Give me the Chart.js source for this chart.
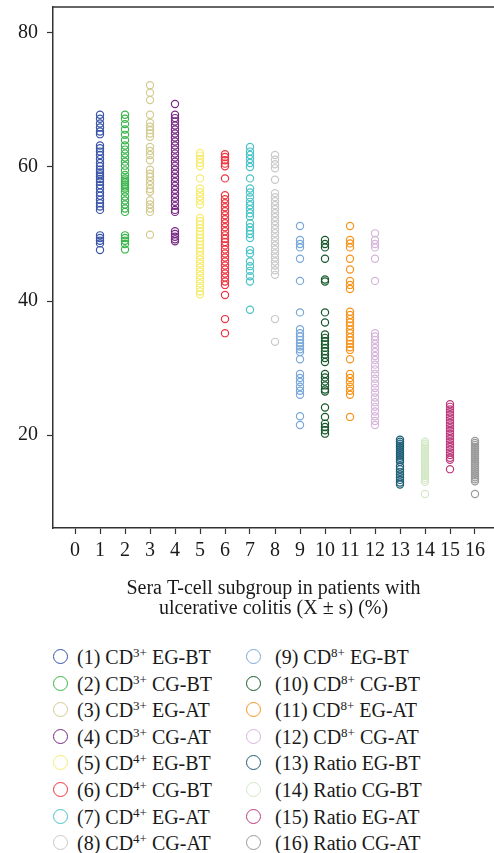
<!DOCTYPE html>
<html>
<head>
<meta charset="utf-8">
<script src="https://cdn.jsdelivr.net/npm/chart.js@4.4.1/dist/chart.umd.min.js"></script>
<style>
  body { margin: 0; background: #fff; font-family: "Liberation Serif", "DejaVu Serif", serif; }
  #wrap { position: relative; width: 494px; height: 853px; }
  #chart { position: absolute; left: 0; top: 0; }
  #legend { position: absolute; left: 0; top: 644px; width: 494px; }
  .item { position: absolute; height: 26px; line-height: 26px; font-size: 20px; color: #1a1a1a; white-space: nowrap; }
  .dot { position: absolute; top: 5px; width: 13px; height: 13px; border-radius: 50%; border: 1.5px solid; box-sizing: content-box; }
  .lbl { position: absolute; }
  sup { font-size: 13px; vertical-align: 0; position: relative; top: -7px; }
</style>
</head>
<body>
<div id="wrap">
  <canvas id="chart" width="494" height="630"></canvas>
  <div id="legend"></div>
</div>
<script>
// groups 1..16 on the x axis
const groupNumbers = [1, 2, 3, 4, 5, 6, 7, 8, 9, 10, 11, 12, 13, 14, 15, 16];
const xTicks = [0, 1, 2, 3, 4, 5, 6, 7, 8, 9, 10, 11, 12, 13, 14, 15, 16];
const yTicks = [20, 40, 60, 80];

// legend names: [prefix, superscript, suffix]
const groupNames = [
  ["(1) CD", "3+", " EG-BT"],
  ["(2) CD", "3+", " CG-BT"],
  ["(3) CD", "3+", " EG-AT"],
  ["(4) CD", "3+", " CG-AT"],
  ["(5) CD", "4+", " EG-BT"],
  ["(6) CD", "4+", " CG-BT"],
  ["(7) CD", "4+", " EG-AT"],
  ["(8) CD", "4+", " CG-AT"],
  ["(9) CD", "8+", " EG-BT"],
  ["(10) CD", "8+", " CG-BT"],
  ["(11) CD", "8+", " EG-AT"],
  ["(12) CD", "8+", " CG-AT"],
  ["(13) Ratio EG-BT", "", ""],
  ["(14) Ratio CG-BT", "", ""],
  ["(15) Ratio EG-AT", "", ""],
  ["(16) Ratio CG-AT", "", ""]
];

const groupColors = [
  "#3a55a6", "#3ab54a", "#d3cb92", "#7a2a86",
  "#f4ec74", "#ee3540", "#4cc3c6", "#c9c9c9",
  "#78a7d8", "#17592b", "#f7941d", "#d5b5da",
  "#1d5e78", "#d3e8c6", "#bd3b7d", "#9a9a9a"
];

// values per group (%)
const g1 = [67.8, 67.2, 66.5, 65.9, 65.3, 64.9, 63.2, 62.8, 62.3, 61.8, 61.2, 60.6, 60.1, 59.6, 59.2, 58.9, 58.6, 58.2, 57.8, 57.3, 56.8, 56.2, 55.7, 55.1, 54.6, 54.1, 53.6, 49.8, 49.4, 49.0, 48.6, 47.6];
const g2 = [67.8, 67.2, 66.4, 65.6, 64.8, 64.0, 63.2, 62.6, 62.0, 61.4, 60.8, 60.2, 59.5, 58.8, 58.3, 58.0, 57.7, 57.4, 57.1, 56.8, 56.3, 55.6, 55.0, 54.4, 53.8, 53.3, 49.8, 49.4, 49.0, 48.5, 47.7];
const g3 = [72.2, 71.1, 70.0, 67.8, 66.6, 66.0, 65.5, 65.0, 64.5, 63.0, 62.4, 61.8, 61.0, 59.6, 59.0, 58.5, 57.9, 57.3, 56.7, 56.3, 55.0, 54.4, 53.8, 53.3, 49.9];
const g4 = [69.4, 67.8, 67.3, 66.8, 66.2, 65.6, 65.0, 64.4, 63.8, 63.2, 62.6, 62.0, 61.4, 60.8, 60.2, 59.6, 59.0, 58.4, 57.8, 57.2, 56.6, 56.0, 55.4, 54.8, 54.2, 53.6, 53.3, 50.4, 50.0, 49.6, 49.2, 48.9];
const g5 = [62.1, 61.7, 61.2, 60.6, 60.1, 58.3, 56.8, 56.2, 55.6, 55.0, 54.4, 52.4, 51.9, 51.4, 50.9, 50.4, 49.9, 49.4, 48.9, 48.4, 47.9, 47.4, 46.8, 46.2, 45.6, 45.0, 44.4, 43.8, 43.2, 42.6, 42.0, 41.4, 41.0];
const g6 = [61.9, 61.5, 61.0, 60.5, 60.1, 58.3, 55.8, 55.2, 54.6, 54.0, 53.4, 52.8, 52.2, 51.6, 51.0, 50.4, 49.8, 49.3, 48.8, 48.3, 47.7, 47.1, 46.5, 45.9, 45.3, 44.7, 44.1, 43.5, 42.9, 42.4, 40.9, 37.3, 35.2];
const g7 = [63.0, 62.3, 61.8, 61.2, 60.6, 60.0, 58.3, 56.8, 56.2, 55.5, 54.8, 54.3, 53.7, 53.1, 52.6, 51.6, 51.0, 50.5, 50.0, 49.4, 47.6, 47.1, 45.9, 45.2, 44.5, 43.7, 42.9, 38.7];
const g8 = [61.8, 61.1, 60.4, 59.8, 58.1, 56.1, 55.5, 54.9, 54.3, 53.7, 53.1, 52.5, 51.9, 51.3, 50.7, 50.1, 49.5, 48.9, 48.3, 47.7, 47.1, 46.5, 45.9, 45.3, 44.6, 43.9, 37.3, 33.9];
const g9 = [51.2, 49.1, 48.5, 48.0, 46.3, 43.0, 38.3, 35.8, 35.2, 34.7, 34.2, 33.7, 33.2, 32.8, 32.4, 31.3, 29.1, 28.5, 27.9, 27.2, 26.6, 26.0, 22.8, 21.5];
const g10 = [49.1, 48.5, 48.0, 46.3, 43.2, 42.9, 38.3, 36.8, 35.0, 34.5, 34.0, 33.5, 33.0, 32.5, 32.0, 31.5, 30.9, 29.1, 28.6, 28.0, 27.4, 26.8, 26.5, 24.1, 22.7, 21.7, 21.2, 20.7, 20.2];
const g11 = [51.2, 49.1, 48.6, 48.0, 46.3, 44.7, 43.0, 42.4, 41.8, 38.4, 37.9, 37.3, 36.8, 36.3, 35.7, 35.2, 34.6, 34.1, 33.6, 33.1, 32.7, 31.3, 29.1, 28.5, 27.9, 27.2, 26.6, 26.0, 22.7];
const g12 = [50.1, 49.1, 48.5, 48.0, 46.3, 43.0, 35.2, 34.7, 34.2, 33.6, 33.0, 32.4, 31.8, 31.2, 30.5, 29.8, 29.1, 28.4, 27.7, 27.0, 26.3, 25.6, 24.9, 24.2, 23.5, 22.8, 22.1, 21.5];
const g13 = [19.3, 19.0, 18.7, 18.4, 18.1, 17.8, 17.5, 17.2, 16.9, 16.6, 16.3, 16.0, 15.3, 14.9, 14.5, 14.1, 13.7, 13.3, 12.9, 12.6];
const g14 = [19.0, 18.7, 18.4, 18.1, 17.8, 17.5, 17.2, 16.9, 16.6, 16.3, 16.0, 15.7, 15.4, 15.1, 14.8, 14.5, 14.2, 13.9, 13.6, 13.3, 13.0, 11.2];
const g15 = [24.6, 24.2, 23.8, 23.4, 23.0, 22.6, 22.2, 21.8, 21.4, 21.0, 20.6, 20.2, 19.8, 19.4, 19.0, 18.6, 18.2, 17.8, 17.4, 17.0, 16.6, 16.3, 14.9];
const g16 = [19.1, 18.8, 18.5, 18.2, 17.9, 17.6, 17.3, 17.0, 16.7, 16.4, 16.1, 15.8, 15.5, 15.2, 14.9, 14.6, 14.3, 14.0, 13.7, 13.4, 13.1, 11.2];

const groupValues = [g1, g2, g3, g4, g5, g6, g7, g8, g9, g10, g11, g12, g13, g14, g15, g16];

const axisColor = "#333333";
const tickFont = { family: "Liberation Serif", size: 20 };

const datasets = groupNumbers.map((n, i) => ({
  label: groupNames[i].join(""),
  data: groupValues[i].map((v) => ({ x: n, y: v })),
  borderColor: groupColors[i],
  backgroundColor: "rgba(0,0,0,0)",
  borderWidth: 1.2,
  pointRadius: 3.6,
  pointHoverRadius: 3.6,
}));

// top frame line
const frameTop = {
  id: "frameTop",
  afterDraw(chart) {
    const { ctx, chartArea } = chart;
    ctx.save();
    ctx.strokeStyle = axisColor;
    ctx.lineWidth = 1.5;
    ctx.beginPath();
    ctx.moveTo(chartArea.left, chartArea.top);
    ctx.lineTo(chart.width, chartArea.top);
    ctx.stroke();
    ctx.restore();
  },
};

new Chart(document.getElementById("chart"), {
  type: "scatter",
  data: { datasets },
  options: {
    responsive: false,
    animation: false,
    layout: { autoPadding: false, padding: { top: 7, right: 0, left: 0, bottom: 0 } },
    scales: {
      x: {
        type: "linear",
        min: -0.88,
        max: 16.76,
        afterBuildTicks: (scale) => { scale.ticks = xTicks.map((v) => ({ value: v })); },
        afterFit: (scale) => { scale.height = 102; scale.paddingLeft = 0; scale.paddingRight = 0; },
        border: { display: true, color: axisColor, width: 1.5 },
        grid: { display: true, drawOnChartArea: false, drawTicks: true, tickLength: 6, tickColor: axisColor, tickWidth: 1.2 },
        ticks: { color: "#1a1a1a", font: tickFont, padding: 5, maxRotation: 0, autoSkip: false },
        title: {
          display: true,
          text: ["Sera T-cell subgroup in patients with", "ulcerative colitis (X \u00b1 s) (%)"],
          color: "#1a1a1a",
          font: { family: "Liberation Serif", size: 20, lineHeight: 1.0 },
          padding: { top: 0, bottom: 11 },
        },
      },
      y: {
        type: "linear",
        min: 6.12,
        max: 83.88,
        afterBuildTicks: (scale) => { scale.ticks = yTicks.map((v) => ({ value: v })); },
        afterFit: (scale) => { scale.width = 53; scale.paddingTop = 0; scale.paddingBottom = 0; },
        border: { display: true, color: axisColor, width: 1.5 },
        grid: { display: true, drawOnChartArea: false, drawTicks: true, tickLength: 6, tickColor: axisColor, tickWidth: 1.2 },
        ticks: { color: "#1a1a1a", font: tickFont, padding: 9 },
      },
    },
    plugins: {
      legend: { display: false },
      tooltip: { enabled: false },
    },
  },
  plugins: [frameTop],
});

// legend, two columns of eight
const legend = document.getElementById("legend");
groupNames.forEach((name, i) => {
  const col = i < 8 ? 0 : 1;
  const row = i % 8;
  const item = document.createElement("div");
  item.className = "item";
  item.style.top = row * 26.6 + "px";
  item.style.left = col === 0 ? "53px" : "246px";
  const dot = document.createElement("span");
  dot.className = "dot";
  dot.style.borderColor = groupColors[i];
  const lbl = document.createElement("span");
  lbl.className = "lbl";
  lbl.style.left = col === 0 ? "24px" : "29px";
  lbl.innerHTML = name[0] + (name[1] ? "<sup>" + name[1] + "</sup>" : "") + name[2];
  item.appendChild(dot);
  item.appendChild(lbl);
  legend.appendChild(item);
});
</script>
</body>
</html>
